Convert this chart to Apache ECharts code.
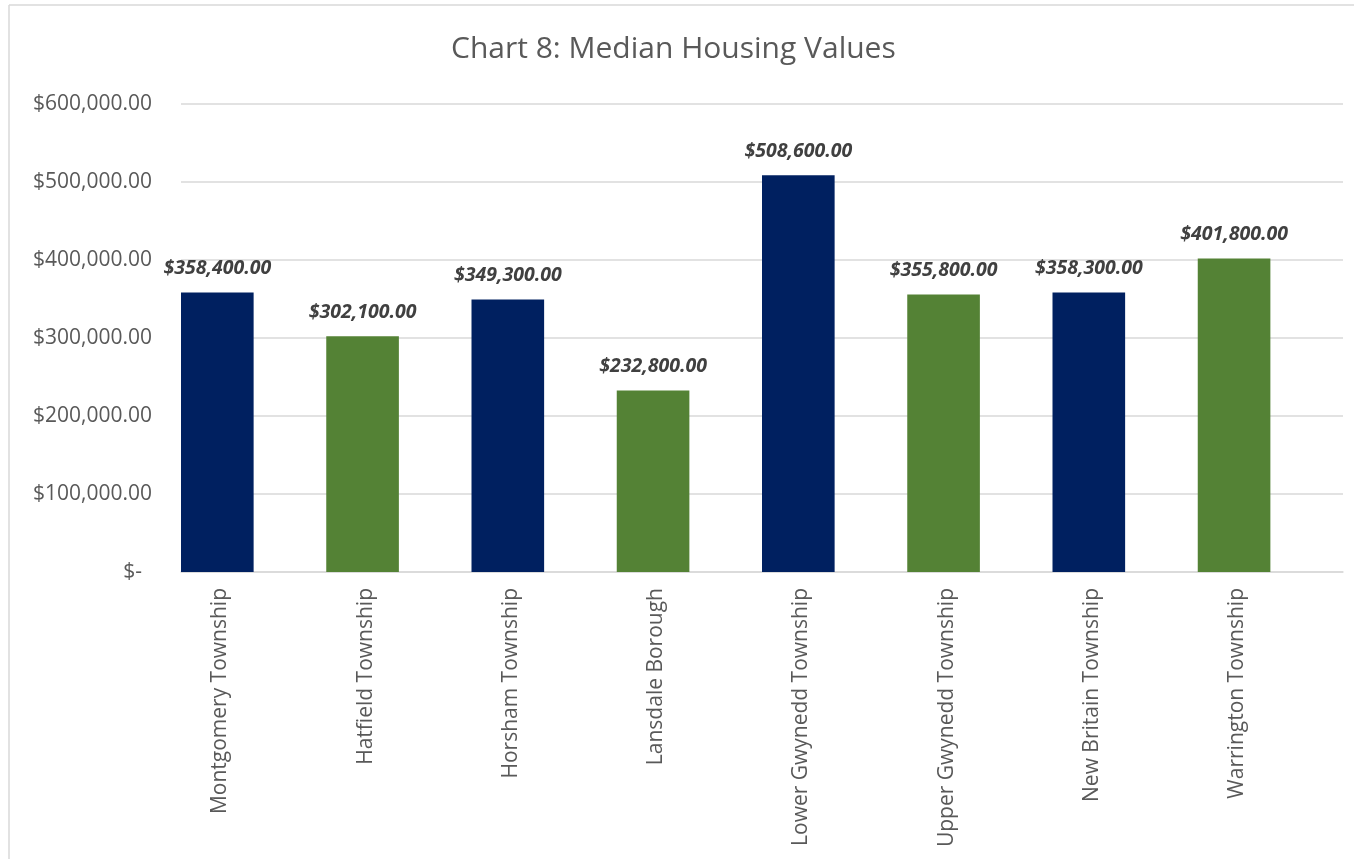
<!DOCTYPE html>
<html>
<head>
<meta charset="utf-8">
<title>Chart 8: Median Housing Values</title>
<script src="https://cdn.jsdelivr.net/npm/echarts@6/dist/echarts.min.js"></script>
<style>
  html, body { margin: 0; padding: 0; background: #fff; }
  #chart { width: 1354px; height: 859px; }
</style>
</head>
<body>
<div id="chart"></div>
<script>
// data
var townships = ['Montgomery Township', 'Hatfield Township', 'Horsham Township', 'Lansdale Borough',
  'Lower Gwynedd Township', 'Upper Gwynedd Township', 'New Britain Township', 'Warrington Township'];
var medianValues = [358400, 302100, 349300, 232800, 508600, 355800, 358300, 401800];
var yTicks = { min: 0, max: 600000, interval: 100000 };

var barColors = ['#002060', '#548235'];
var font = '"Open Sans", "Noto Sans", sans-serif';

// $358,400.00 style
function money(v) {
  var s = Number(v).toFixed(2);
  return '$' + s.replace(/\B(?=(\d{3})+(?!\d))/g, ',');
}

var chart = echarts.init(document.getElementById('chart'));

var option = {
  backgroundColor: '#fff',
  animation: false,
  title: {
    text: 'Chart 8: Median Housing Values',
    left: 446,
    top: 29,
    textStyle: { fontFamily: font, fontSize: 30, fontWeight: 'normal', color: '#595959' }
  },
  // the chart frame, only left and top edges are inside the shot
  graphic: [
    { type: 'line', shape: { x1: 9, y1: 5, x2: 9, y2: 859 }, style: { stroke: '#d9d9d9', lineWidth: 1.5 } },
    { type: 'line', shape: { x1: 9, y1: 5, x2: 1354, y2: 5 }, style: { stroke: '#d9d9d9', lineWidth: 1.5 } }
  ],
  grid: [
    { left: 181, right: 11, top: 104, bottom: 287 },
    // same width shifted half a bar left: its slot centres sit under the bars, used for the names only
    { left: 147.7, right: 44.3, top: 104, bottom: 287 }
  ],
  xAxis: [
    {
      type: 'category',
      gridIndex: 0,
      data: townships,
      axisLine: { lineStyle: { color: '#d9d9d9', width: 1.5 } },
      axisTick: { show: false },
      axisLabel: { show: false }
    },
    {
      type: 'category',
      gridIndex: 1,
      data: townships,
      axisLine: { show: false },
      axisTick: { show: false },
      axisLabel: {
        rotate: 90,
        interval: 0,
        margin: 16,
        fontFamily: font,
        fontSize: 21,
        color: '#595959'
      }
    }
  ],
  yAxis: [
    {
      type: 'value',
      gridIndex: 0,
      min: yTicks.min,
      max: yTicks.max,
      interval: yTicks.interval,
      axisLine: { show: false },
      axisTick: { show: false },
      splitLine: { lineStyle: { color: '#d9d9d9', width: 1.5 } },
      axisLabel: {
        margin: 29,
        fontFamily: font,
        fontSize: 21,
        color: '#595959',
        formatter: function (v) {
          return v === 0 ? '{z|$-}' : money(v);
        },
        rich: {
          z: { fontFamily: font, fontSize: 21, color: '#595959', padding: [0, 10, 0, 0] }
        }
      }
    },
    {
      type: 'value',
      gridIndex: 1,
      min: yTicks.min,
      max: yTicks.max,
      show: false
    }
  ],
  series: [
    {
      name: 'Median Housing Value',
      type: 'bar',
      xAxisIndex: 0,
      yAxisIndex: 0,
      data: medianValues,
      barGap: '0%',
      barCategoryGap: '0%',
      itemStyle: {
        color: function (p) { return barColors[p.dataIndex % 2]; }
      },
      label: {
        show: true,
        position: 'top',
        distance: 14,
        formatter: function (p) { return money(p.value); },
        fontFamily: font,
        fontSize: 19.5,
        fontWeight: 'bold',
        fontStyle: 'italic',
        color: '#404040'
      }
    },
    {
      // empty second series keeps each bar in the left half of its slot
      name: 'blank',
      type: 'bar',
      xAxisIndex: 0,
      yAxisIndex: 0,
      data: medianValues.map(function () { return null; }),
      barGap: '0%',
      barCategoryGap: '0%'
    }
  ]
};

chart.setOption(option);
window.onresize = function () { chart.resize(); };
</script>
</body>
</html>
